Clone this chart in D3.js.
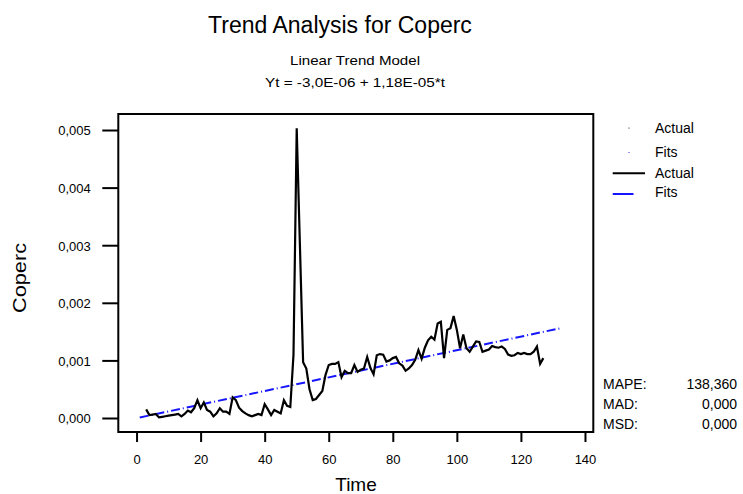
<!DOCTYPE html>
<html><head><meta charset="utf-8">
<script src="https://cdn.jsdelivr.net/npm/d3@7"></script>
<style>body{margin:0;background:#fff}svg{display:block;font-family:"Liberation Sans",Arial,sans-serif}</style>
</head><body><svg id="c" width="743" height="494"></svg>
<script>
// Actual series (time index, value)
const actualTime = [];
for (let t = 3; t <= 127; t++) actualTime.push(t);
const actualValues = [
 0.00015,0.00005,0.00006,0.00007,0.00001,0.00002,0.00003,0.00004,0.00005,0.00006,
 0.00007,0.00003,0.00007,0.00013,0.00010,0.00017,0.00031,0.00017,0.00027,0.00014,
 0.00011,0.00003,0.00008,0.00017,0.00011,0.00011,0.00007,0.00036,0.00031,0.00018,
 0.00012,0.00008,0.00005,0.00003,0.00005,0.00007,0.00005,0.00024,0.00015,0.00005,
 0.00014,0.00011,0.00008,0.00031,0.00021,0.00019,0.00110,0.00503,0.00300,0.00097,
 0.00086,0.00050,0.00031,0.00033,0.00040,0.00047,0.00075,0.00092,0.00094,0.00094,
 0.00097,0.00071,0.00082,0.00078,0.00078,0.00092,0.00080,0.00084,0.00086,0.00106,
 0.00087,0.00076,0.00109,0.00111,0.00110,0.00098,0.00100,0.00104,0.00106,0.00095,
 0.00091,0.00082,0.00086,0.00092,0.00101,0.00118,0.00103,0.00122,0.00135,0.00141,
 0.00136,0.00164,0.00167,0.00104,0.00153,0.00156,0.00177,0.00153,0.00121,0.00145,
 0.00121,0.00115,0.00124,0.00133,0.00132,0.00115,0.00117,0.00119,0.00125,0.00123,
 0.00122,0.00124,0.00120,0.00110,0.00108,0.00109,0.00113,0.00111,0.00113,0.00111,
 0.00111,0.00115,0.00124,0.00094,0.00104
];
// Fitted trend line endpoints
const fitTime = [1, 132];
const fitValues = [0.0000088, 0.0015546];
const xTicks = [0, 20, 40, 60, 80, 100, 120, 140];
const yTicks = [0, 0.001, 0.002, 0.003, 0.004, 0.005];
const titleText = "Trend Analysis for Coperc";
const subtitle1 = "Linear Trend Model";
const subtitle2 = "Yt = -3,0E-06 + 1,18E-05*t";
const legendLabels = ["Actual", "Fits", "Actual", "Fits"];
const statLabels = ["MAPE:", "MAD:", "MSD:"];
const statValues = ["138,360", "0,000", "0,000"];

const svg = d3.select("#c");
const L = 118.3, R = 593.3, T = 114, B = 432;
const x = d3.scaleLinear().domain([-5.7, 142.6]).range([L, R]);
const y = d3.scaleLinear().domain([-0.000243, 0.005278]).range([B, T]);
const loc = d3.formatLocale({decimal: ",", thousands: ".", grouping: [3], currency: ["", ""]});
const fy = loc.format(".3f");

svg.append("clipPath").attr("id","clip").append("rect").attr("x",L).attr("y",T).attr("width",R-L).attr("height",B-T);

// axes
const gx = svg.append("g").attr("transform", `translate(0,${B})`)
  .call(d3.axisBottom(x).tickValues(xTicks).tickSize(10).tickFormat(d3.format("d")));
gx.select(".domain").remove();
gx.selectAll("line").attr("stroke","#000").attr("stroke-width",2);
gx.selectAll("text").attr("font-size",13).attr("font-family","Liberation Sans, Arial").attr("fill","#000").attr("y",23).attr("dy","0.71em");

const gy = svg.append("g").attr("transform", `translate(${L},0)`)
  .call(d3.axisLeft(y).tickValues(yTicks).tickSize(16).tickFormat(fy));
gy.select(".domain").remove();
gy.selectAll("line").attr("stroke","#000").attr("stroke-width",2);
gy.selectAll("text").attr("font-size",13).attr("font-family","Liberation Sans, Arial").attr("fill","#000").attr("x",-27.6).attr("dy","0.38em");

// frame
svg.append("rect").attr("x",L).attr("y",T).attr("width",R-L).attr("height",B-T)
  .attr("fill","none").attr("stroke","#000").attr("stroke-width",2);

const plot = svg.append("g").attr("clip-path","url(#clip)");
const line = d3.line().x(d => x(d[0])).y(d => y(d[1]));
const fitData = fitTime.map((t,i) => [t, fitValues[i]]);
plot.append("path").datum(fitData).attr("d", line).attr("fill","none")
  .attr("stroke","#1515ff").attr("stroke-width",2).attr("stroke-dasharray","9,3,1,3");
const actData = actualTime.map((t,i) => [t, actualValues[i]]);
plot.append("path").datum(actData).attr("d", line).attr("fill","none")
  .attr("stroke","#000").attr("stroke-width",2.2).attr("stroke-linejoin","miter");

// titles
svg.append("text").attr("x",340).attr("y",33).attr("text-anchor","middle").attr("font-size",23).text(titleText);
svg.append("text").attr("x",355).attr("y",65).attr("text-anchor","middle").attr("font-size",13)
  .attr("textLength",130).attr("lengthAdjust","spacingAndGlyphs").text(subtitle1);
svg.append("text").attr("x",355).attr("y",87).attr("text-anchor","middle").attr("font-size",13)
  .attr("textLength",180).attr("lengthAdjust","spacingAndGlyphs").text(subtitle2);
svg.append("text").attr("x",356).attr("y",491).attr("text-anchor","middle").attr("font-size",19).text("Time");
svg.append("text").attr("transform","translate(26,278) rotate(-90)").attr("text-anchor","middle").attr("font-size",19)
  .attr("textLength",70).attr("lengthAdjust","spacingAndGlyphs").text("Coperc");

// legend
const ly = [132.5, 156.5, 177.5, 197];
const lg = svg.append("g").attr("font-size",14);
lg.selectAll("text").data(legendLabels).join("text").attr("x",655).attr("y",(d,i)=>ly[i]).text(d=>d);
lg.append("circle").attr("cx",629).attr("cy",128).attr("r",0.6).attr("fill","#000");
lg.append("circle").attr("cx",629).attr("cy",152.5).attr("r",0.6).attr("fill","#1515ff");
lg.append("line").attr("x1",612.7).attr("x2",645).attr("y1",173.3).attr("y2",173.3).attr("stroke","#000").attr("stroke-width",2);
lg.append("line").attr("x1",612.7).attr("x2",633.5).attr("y1",194).attr("y2",194).attr("stroke","#1515ff").attr("stroke-width",2);

// stats
const sy = [389, 409, 429];
const sg = svg.append("g").attr("font-size",14);
sg.selectAll(".sl").data(statLabels).join("text").attr("class","sl").attr("x",603).attr("y",(d,i)=>sy[i]).text(d=>d);
sg.selectAll(".sv").data(statValues).join("text").attr("class","sv").attr("x",737).attr("y",(d,i)=>sy[i]).attr("text-anchor","end").text(d=>d);
</script></body></html>
